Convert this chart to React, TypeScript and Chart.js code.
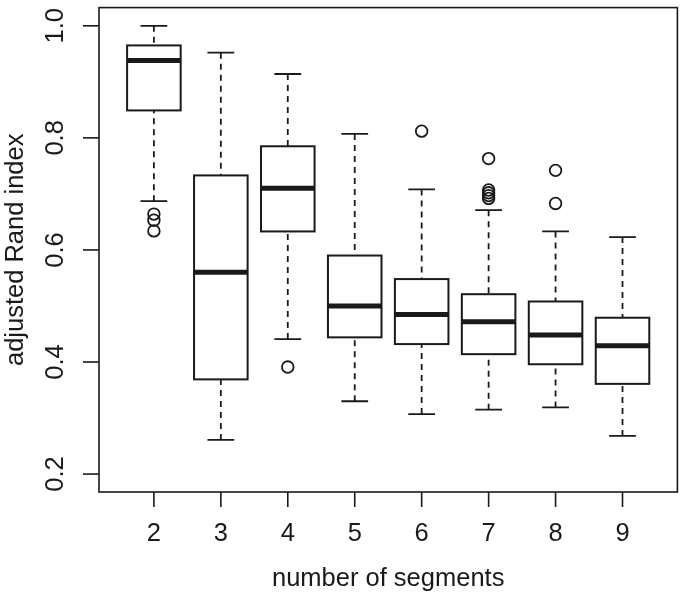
import React, { useEffect, useRef } from "react";
import { Chart, registerables } from "chart.js";

Chart.register(...registerables);

const categories = [2, 3, 4, 5, 6, 7, 8, 9];
const whiskerLow = [0.687, 0.261, 0.441, 0.33, 0.307, 0.315, 0.319, 0.268];
const q1 = [0.849, 0.369, 0.633, 0.444, 0.432, 0.414, 0.396, 0.361];
const median = [0.938, 0.56, 0.71, 0.5, 0.485, 0.472, 0.448, 0.429];
const q3 = [0.965, 0.733, 0.785, 0.59, 0.548, 0.521, 0.508, 0.479];
const whiskerHigh = [1.0, 0.952, 0.914, 0.807, 0.708, 0.671, 0.633, 0.623];
const outlierCats = [2, 2, 2, 4, 6, 7, 7, 7, 7, 7, 8, 8];
const outlierValues = [0.664, 0.653, 0.634, 0.391, 0.812, 0.763, 0.707, 0.702, 0.697, 0.692, 0.742, 0.683];
const yTickValues = [0.2, 0.4, 0.6, 0.8, 1.0];
const yTickLabels = ["0.2", "0.4", "0.6", "0.8", "1.0"];
const xTitle = "number of segments";
const yTitle = "adjusted Rand index";

const INK = "#1a1a1a";
const FONT = "25.5px 'Liberation Sans', Arial, sans-serif";

const boxPlugin = {
  id: "rBoxplot",
  beforeDatasetsDraw(chart: any) {
    const { ctx, chartArea, scales } = chart;
    const x = scales.x;
    const y = scales.y;
    ctx.save();
    ctx.strokeStyle = INK;
    // frame
    ctx.lineWidth = 1.6;
    ctx.strokeRect(chartArea.left, chartArea.top, chartArea.right - chartArea.left, chartArea.bottom - chartArea.top);

    categories.forEach((c, i) => {
      const xc = x.getPixelForValue(c);
      const bl = x.getPixelForValue(c - 0.4);
      const br = x.getPixelForValue(c + 0.4);
      const sl = x.getPixelForValue(c - 0.2);
      const sr = x.getPixelForValue(c + 0.2);
      const yLo = y.getPixelForValue(whiskerLow[i]);
      const yQ1 = y.getPixelForValue(q1[i]);
      const yMed = y.getPixelForValue(median[i]);
      const yQ3 = y.getPixelForValue(q3[i]);
      const yHi = y.getPixelForValue(whiskerHigh[i]);

      // whiskers (dashed)
      ctx.lineWidth = 1.8;
      ctx.setLineDash([6, 5]);
      ctx.beginPath();
      ctx.moveTo(xc, yLo);
      ctx.lineTo(xc, yQ1);
      ctx.moveTo(xc, yHi);
      ctx.lineTo(xc, yQ3);
      ctx.stroke();
      ctx.setLineDash([]);

      // staples
      ctx.beginPath();
      ctx.moveTo(sl, yLo);
      ctx.lineTo(sr, yLo);
      ctx.moveTo(sl, yHi);
      ctx.lineTo(sr, yHi);
      ctx.stroke();

      // box
      ctx.fillStyle = "#ffffff";
      ctx.fillRect(bl, yQ3, br - bl, yQ1 - yQ3);
      ctx.lineWidth = 2;
      ctx.strokeRect(bl, yQ3, br - bl, yQ1 - yQ3);

      // median
      ctx.lineWidth = 5;
      ctx.lineCap = "butt";
      ctx.beginPath();
      ctx.moveTo(bl, yMed);
      ctx.lineTo(br, yMed);
      ctx.stroke();
    });
    ctx.restore();
  },
  afterDraw(chart: any) {
    const { ctx, chartArea, scales } = chart;
    const x = scales.x;
    const y = scales.y;
    ctx.save();
    ctx.strokeStyle = INK;
    ctx.fillStyle = INK;
    ctx.lineWidth = 1.6;
    ctx.font = FONT;

    // y ticks
    y.ticks.forEach((t: any, i: number) => {
      const py = y.getPixelForValue(t.value);
      ctx.beginPath();
      ctx.moveTo(chartArea.left - 16, py);
      ctx.lineTo(chartArea.left, py);
      ctx.stroke();
      ctx.save();
      ctx.translate(chartArea.left - 36, py);
      ctx.rotate(-Math.PI / 2);
      ctx.textAlign = "center";
      ctx.textBaseline = "alphabetic";
      ctx.fillText(yTickLabels[i], 0, 0);
      ctx.restore();
    });

    // x ticks
    x.ticks.forEach((t: any) => {
      const px = x.getPixelForValue(t.value);
      ctx.beginPath();
      ctx.moveTo(px, chartArea.bottom);
      ctx.lineTo(px, chartArea.bottom + 15);
      ctx.stroke();
      ctx.textAlign = "center";
      ctx.textBaseline = "alphabetic";
      ctx.fillText(String(t.value), px, chartArea.bottom + 49);
    });

    // titles
    ctx.textAlign = "center";
    ctx.textBaseline = "alphabetic";
    ctx.fillText(xTitle, (chartArea.left + chartArea.right) / 2, chartArea.bottom + 94);
    ctx.save();
    ctx.translate(23, (chartArea.top + chartArea.bottom) / 2);
    ctx.rotate(-Math.PI / 2);
    ctx.fillText(yTitle, 0, 0);
    ctx.restore();

    ctx.restore();
  },
};

export default function App() {
  const ref = useRef<HTMLCanvasElement>(null);
  useEffect(() => {
    document.body.style.margin = "0";
    if (!ref.current) return;
    const points = outlierCats.map((c, i) => ({ x: c, y: outlierValues[i] }));
    const chart = new Chart(ref.current, {
      type: "scatter",
      data: {
        datasets: [
          {
            data: points,
            pointStyle: "circle",
            pointRadius: 5.8,
            pointHoverRadius: 5.8,
            borderColor: INK,
            borderWidth: 1.8,
            backgroundColor: "rgba(0,0,0,0)",
            showLine: false,
            clip: false as any,
          },
        ],
      },
      options: {
        animation: false,
        responsive: true,
        maintainAspectRatio: false,
        events: [],
        layout: { padding: { left: 0, top: 2, right: 3, bottom: 0 } },
        plugins: { legend: { display: false }, tooltip: { enabled: false } },
        scales: {
          x: {
            type: "linear",
            position: "bottom",
            min: 1.18,
            max: 9.82,
            grid: { display: false },
            border: { display: false },
            ticks: { display: false },
            afterBuildTicks: (s: any) => {
              s.ticks = categories.map((v) => ({ value: v }));
            },
            afterFit: (s: any) => {
              s.height = 102;
            },
          },
          y: {
            type: "linear",
            min: 0.168,
            max: 1.0325,
            grid: { display: false },
            border: { display: false },
            ticks: { display: false },
            afterBuildTicks: (s: any) => {
              s.ticks = yTickValues.map((v) => ({ value: v }));
            },
            afterFit: (s: any) => {
              s.width = 99;
            },
          },
        },
      },
      plugins: [boxPlugin],
    });
    return () => chart.destroy();
  }, []);
  return (
    <div style={{ position: "absolute", left: 0, top: 0, width: 685, height: 594 }}>
      <canvas ref={ref} />
    </div>
  );
}
